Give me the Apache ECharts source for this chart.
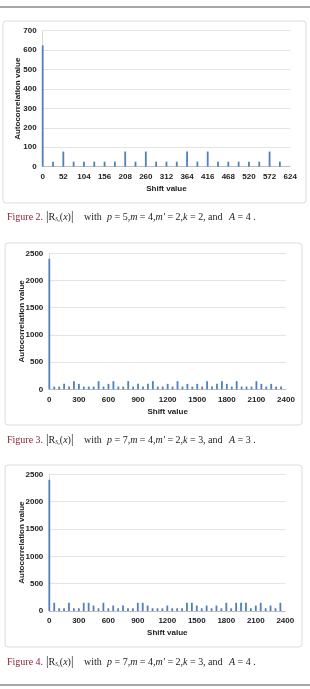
<!DOCTYPE html>
<html><head><meta charset="utf-8">
<script src="https://cdn.jsdelivr.net/npm/echarts@6/dist/echarts.min.js"></script>
<style>html,body{margin:0;padding:0;background:#fff}#c{width:310px;height:689px}</style>
</head><body><div id="c"></div><script>
// Figure 2: p=5 (period 624), spikes every 26
const shifts1 = [0,26,52,78,104,130,156,182,208,234,260,286,312,338,364,390,416,442,468,494,520,546,572,598];
const values1 = [624,26,78,26,26,26,26,26,78,26,78,26,26,26,78,26,78,26,26,26,26,26,78,26];
// Figures 3 & 4: p=7 (period 2400), spikes every 50
const shifts2 = [0,50,100,150,200,250,300,350,400,450,500,550,600,650,700,750,800,850,900,950,1000,1050,1100,1150,1200,1250,1300,1350,1400,1450,1500,1550,1600,1650,1700,1750,1800,1850,1900,1950,2000,2050,2100,2150,2200,2250,2300,2350];
const values2 = [2400,50,50,100,50,150,100,50,50,50,150,50,100,150,50,50,150,50,100,50,100,150,50,50,100,50,150,50,100,50,100,50,150,50,100,150,100,50,150,50,50,50,150,100,50,100,50,50];
const values3 = [2400,150,50,50,150,50,50,150,150,100,50,150,50,100,50,100,50,50,150,150,100,50,50,50,100,50,50,50,150,150,100,50,100,50,100,50,150,50,150,150,150,50,100,150,50,100,50,150];
const xAxis1 = {min:0, max:624, interval:52};
const xAxis2 = {min:0, max:2400, interval:300};
const yAxis1 = {min:0, max:700, interval:100};
const yAxis2 = {min:0, max:2500, interval:500};
const xName = 'Shift value';
const yName = 'Autocorrelation value';
const captions = [
  {fig:'Figure 2.', p:'5', k:'2', A:'4'},
  {fig:'Figure 3.', p:'7', k:'3', A:'3'},
  {fig:'Figure 4.', p:'7', k:'3', A:'4'}
];

const FONT = '"Liberation Sans", Arial, sans-serif';
const SERIF = '"Liberation Serif", "Times New Roman", serif';
const lbl = {color:'#222', fontWeight:'bold', fontSize:8, fontFamily:FONT, formatter:(v)=>String(v)};

function mkX(gi, ax, gap){
  return {type:'value', gridIndex:gi, min:ax.min, max:ax.max, interval:ax.interval,
    name:xName, nameLocation:'middle', nameGap:gap, nameMoveOverlap:false,
    nameTextStyle:{color:'#222', fontWeight:'bold', fontSize:8, fontFamily:FONT},
    axisLine:{show:true, lineStyle:{color:'#bfbfbf', width:1}},
    axisTick:{show:false}, splitLine:{show:false},
    axisLabel:Object.assign({margin:6}, lbl)};
}
function mkY(gi, ax, gap){
  return {type:'value', gridIndex:gi, min:ax.min, max:ax.max, interval:ax.interval,
    name:yName, nameLocation:'middle', nameGap:gap, nameRotate:90, nameMoveOverlap:false,
    nameTextStyle:{color:'#222', fontWeight:'bold', fontSize:8, fontFamily:FONT},
    axisLine:{show:true, lineStyle:{color:'#d9d9d9', width:1}},
    axisTick:{show:false},
    splitLine:{show:true, lineStyle:{color:'#e4e4e4', width:1}},
    axisLabel:Object.assign({margin:6}, lbl)};
}
function mkS(gi, xs, vs){
  return {type:'bar', xAxisIndex:gi, yAxisIndex:gi, barWidth:1.8,
    itemStyle:{color:'#4f81bd'}, data:xs.map((s,i)=>[s, vs[i]]), animation:false};
}

const capY = [217, 440, 662];
const graphics = [
  {type:'line', shape:{x1:0,y1:7,x2:310,y2:7}, style:{stroke:'#8a8a8a', lineWidth:1.5}},
  {type:'line', shape:{x1:0,y1:685,x2:310,y2:685}, style:{stroke:'#8a8a8a', lineWidth:1.5}},
  {type:'rect', z:-10, shape:{x:3,y:21,width:303,height:182,r:3}, style:{fill:'#fff', stroke:'#dcdcdc', lineWidth:1}},
  {type:'rect', z:-10, shape:{x:5,y:243,width:297,height:182,r:3}, style:{fill:'#fff', stroke:'#dcdcdc', lineWidth:1}},
  {type:'rect', z:-10, shape:{x:5,y:465,width:297,height:182,r:3}, style:{fill:'#fff', stroke:'#dcdcdc', lineWidth:1}}
];
const rich = {
  r:{fontFamily:SERIF, fontSize:10, fill:'#222'},
  i:{fontFamily:SERIF, fontSize:10, fontStyle:'italic', fill:'#222'},
  s:{fontFamily:SERIF, fontSize:5.5, fontStyle:'italic', fill:'#222', padding:[5,0,0,0]},
  b:{fontFamily:SERIF, fontSize:12.5, fill:'#222'}
};
captions.forEach((c, i) => {
  const y = capY[i];
  const base = {fontFamily:SERIF, fontSize:10, fill:'#222', verticalAlign:'middle'};
  graphics.push({type:'text', x:7, y, style:Object.assign({}, base, {text:c.fig, fill:'#8b2535'})});
  graphics.push({type:'text', x:46, y, style:Object.assign({}, base, {text:'{b||}{r|R}{s|S\u2080}{r|(}{i|x}{r|)}{b||}', rich})});
  graphics.push({type:'text', x:84, y, style:Object.assign({}, base, {text:'with'})});
  graphics.push({type:'text', x:107, y, style:Object.assign({}, base, {
    text:'{i|p} {r|= ' + c.p + ',}{i|m} {r|= 4,}{i|m\u2032} {r|= 2,}{i|k} {r|= ' + c.k + '}', rich})});
  graphics.push({type:'text', x:203, y, style:Object.assign({}, base, {text:', and'})});
  graphics.push({type:'text', x:229, y, style:Object.assign({}, base, {text:'{i|A} {r|= ' + c.A + ' .}', rich})});
});

const chart = echarts.init(document.getElementById('c'), null, {renderer:'canvas'});
chart.setOption({
  backgroundColor:'#fff',
  animation:false,
  grid:[
    {left:42.7, top:30.7, width:247.5, height:136},
    {left:49.3, top:253.3, width:236.7, height:136},
    {left:49.3, top:474.3, width:236, height:136.7}
  ],
  xAxis:[mkX(0, xAxis1, 18), mkX(1, xAxis2, 18), mkX(2, xAxis2, 18)],
  yAxis:[mkY(0, yAxis1, 21), mkY(1, yAxis2, 24), mkY(2, yAxis2, 24)],
  series:[mkS(0, shifts1, values1), mkS(1, shifts2, values2), mkS(2, shifts2, values3)],
  graphic:{elements:graphics}
});
</script></body></html>
